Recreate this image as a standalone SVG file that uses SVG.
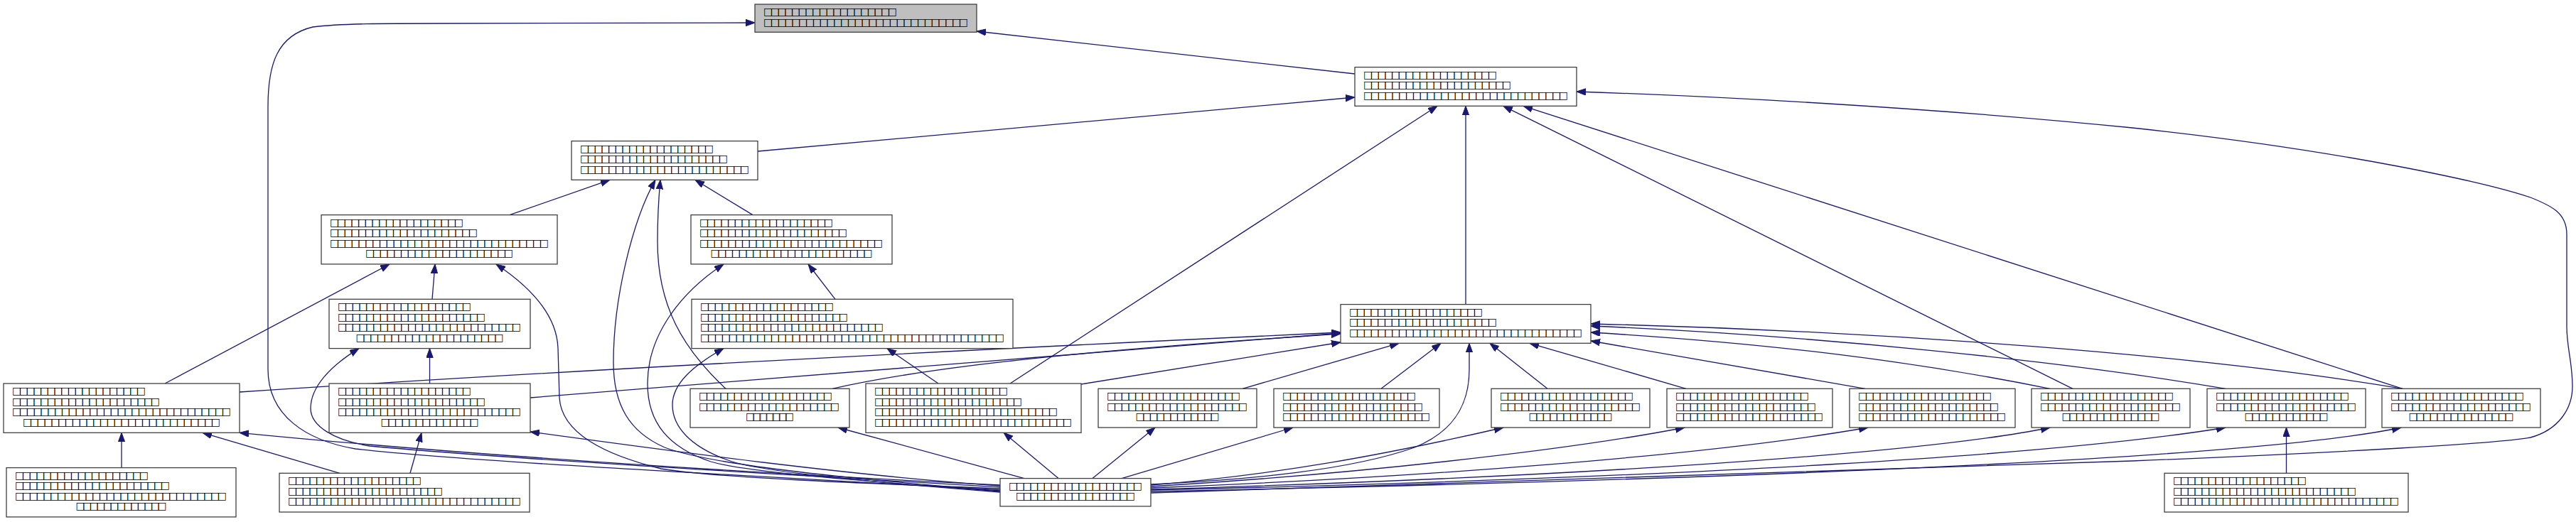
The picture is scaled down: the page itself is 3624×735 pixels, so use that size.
<svg xmlns="http://www.w3.org/2000/svg" width="3624" height="735" viewBox="0 0 3624 735">
<style>
.n rect{fill:#fff;stroke:#404040;stroke-width:1.3}
#nA rect{fill:#bfbfbf}
.n text{font-family:"DejaVu Sans",sans-serif;font-size:14px;fill:#000}
.n text.c{text-anchor:middle}
#edges path{fill:none;stroke:#191970;stroke-width:1.3;marker-end:url(#ah)}
</style>
<defs>
<marker id="ah" markerUnits="userSpaceOnUse" markerWidth="14" markerHeight="10" refX="13" refY="4.7" orient="auto">
<path d="M0,0 L13,4.7 L0,9.4 Z" fill="#191970" stroke="#191970" stroke-width="1"/>
</marker>
</defs>
<rect width="3624" height="735" fill="#fff"/>
<g id="edges">
<path d="M1906,104 L1374,44"/>
<path d="M1407,690 C1100,672 650,650 500,632 C430,620 377,585 377,520 L377,150 C377,90 390,50 440,38 C480,33 540,33 620,33 L1062,32"/>
<path d="M1066,213 L1906,137"/>
<path d="M2062,428.6 L2062,149.3"/>
<path d="M1421,540 L2022,149.3"/>
<path d="M2916,547.3 L2115,149.3"/>
<path d="M3380,547.3 L2143,149.3"/>
<path d="M1619,694 L3000,649 C3300,637 3517,624 3560,616 C3600,605 3619,575 3619,544 C3619,510 3611,490 3611,460 L3611,330 C3611,300 3590,290 3560,278 C3500,258 3300,212 3000,180 C2700,150 2400,135 2218,129"/>
<path d="M717,302.6 L858,253.3"/>
<path d="M1059,302.6 L978,253.3"/>
<path d="M1021,547.3 C960,490 925,430 925,340 C925,300 927,275 929,253.3"/>
<path d="M1407,691 C1200,675 1000,655 935,630 C885,608 863,570 863,510 C863,420 890,310 922,253.3"/>
<path d="M232,540 L548,372"/>
<path d="M608,421.3 L612,372"/>
<path d="M1407,688 C1200,680 1000,672 930,660 C850,640 790,610 787,560 L785,490 C783,440 740,400 698,372"/>
<path d="M1175,421.3 L1137,372"/>
<path d="M1407,692 C1200,676 1050,665 1000,650 C940,630 911,595 911,540 C911,470 960,410 1018,372"/>
<path d="M604.5,540 L604.5,490.6"/>
<path d="M1407,686 C1100,668 700,645 520,628 C470,620 437,600 437,575 C437,545 465,515 505,490.6"/>
<path d="M1407,693 C1200,677 1070,663 1030,650 C970,630 946,600 946,570 C946,540 975,515 1018,490.6"/>
<path d="M1320,540 L1248,490.6"/>
<path d="M337,552 C700,528 1200,500 1886,468"/>
<path d="M746,560 C1000,538 1400,505 1886,469"/>
<path d="M1171,547.3 C1300,518 1500,495 1886,470"/>
<path d="M1521,541 L1886,482"/>
<path d="M1748,547.3 L1968,483.3"/>
<path d="M1943,547.3 L2027,483.3"/>
<path d="M1619,682 C1760,675 1900,662 1990,630 C2045,608 2067,570 2067,520 L2067,483.3"/>
<path d="M2177,547.3 L2096,483.3"/>
<path d="M2372,547.3 L2152,483.3"/>
<path d="M2624,547.3 L2238,480"/>
<path d="M2884,547.3 C2700,510 2500,484 2238,468"/>
<path d="M3131,547.3 C2900,508 2550,472 2238,459"/>
<path d="M3380,547.3 C3100,500 2650,466 2238,456"/>
<path d="M1407,683 C1100,668 700,645 337,609.3"/>
<path d="M1407,684 C1200,670 950,636 746,608"/>
<path d="M1441,673.6 L1179,602"/>
<path d="M1489,673.6 L1412,609.3"/>
<path d="M1537,673.6 L1625,602"/>
<path d="M1578,673.6 L1819,602"/>
<path d="M1619,683 C1800,668 1950,640 2115,602"/>
<path d="M1619,685 C1900,668 2200,635 2370,602"/>
<path d="M1619,687 C2000,672 2400,642 2628,602"/>
<path d="M1619,689 C2200,672 2700,640 2884,602"/>
<path d="M1619,690 C2400,672 2900,640 3131,602"/>
<path d="M1619,692 C2600,672 3200,640 3378,602"/>
<path d="M171,658.6 L171,609.3"/>
<path d="M478,666.3 L285,609.3"/>
<path d="M577,666.3 L593,609.3"/>
<path d="M3216.5,666.3 L3216.5,602"/>
</g>
<g id="nA" class="n"><rect x="1062" y="6" width="312" height="39.3"/>
<text x="1074" y="21" textLength="188" lengthAdjust="spacing">□□□□□□□□□□□□□□□□□□□</text>
<text x="1074" y="35.5" textLength="288" lengthAdjust="spacing">□□□□□□□□□□□□□□□□□□□□□□□□□□□□□</text></g>
<g id="nB" class="n"><rect x="1906" y="94.6" width="312" height="54.7"/>
<text x="1918" y="109.6" textLength="188" lengthAdjust="spacing">□□□□□□□□□□□□□□□□□□□</text>
<text x="1918" y="124.1" textLength="208" lengthAdjust="spacing">□□□□□□□□□□□□□□□□□□□□□</text>
<text x="1918" y="138.6" textLength="288" lengthAdjust="spacing">□□□□□□□□□□□□□□□□□□□□□□□□□□□□□</text></g>
<g id="nC" class="n"><rect x="804" y="198.6" width="262" height="54.7"/>
<text x="816" y="213.6" textLength="188" lengthAdjust="spacing">□□□□□□□□□□□□□□□□□□□</text>
<text x="816" y="228.1" textLength="208" lengthAdjust="spacing">□□□□□□□□□□□□□□□□□□□□□</text>
<text x="816" y="242.6" textLength="238" lengthAdjust="spacing">□□□□□□□□□□□□□□□□□□□□□□□□</text></g>
<g id="nD" class="n"><rect x="452" y="302.6" width="332" height="69.3"/>
<text x="464" y="317.6" textLength="188" lengthAdjust="spacing">□□□□□□□□□□□□□□□□□□□</text>
<text x="464" y="332.1" textLength="208" lengthAdjust="spacing">□□□□□□□□□□□□□□□□□□□□□</text>
<text x="464" y="346.6" textLength="308" lengthAdjust="spacing">□□□□□□□□□□□□□□□□□□□□□□□□□□□□□□□</text>
<text class="c" x="618" y="361.1" textLength="208" lengthAdjust="spacing">□□□□□□□□□□□□□□□□□□□□□</text></g>
<g id="nE" class="n"><rect x="972" y="302.6" width="283" height="69.3"/>
<text x="984" y="317.6" textLength="188" lengthAdjust="spacing">□□□□□□□□□□□□□□□□□□□</text>
<text x="984" y="332.1" textLength="208" lengthAdjust="spacing">□□□□□□□□□□□□□□□□□□□□□</text>
<text x="984" y="346.6" textLength="258" lengthAdjust="spacing">□□□□□□□□□□□□□□□□□□□□□□□□□□</text>
<text class="c" x="1113.5" y="361.1" textLength="228" lengthAdjust="spacing">□□□□□□□□□□□□□□□□□□□□□□□</text></g>
<g id="nF" class="n"><rect x="463" y="421.3" width="283" height="69.3"/>
<text x="475" y="436.3" textLength="188" lengthAdjust="spacing">□□□□□□□□□□□□□□□□□□□</text>
<text x="475" y="450.8" textLength="208" lengthAdjust="spacing">□□□□□□□□□□□□□□□□□□□□□</text>
<text x="475" y="465.3" textLength="258" lengthAdjust="spacing">□□□□□□□□□□□□□□□□□□□□□□□□□□</text>
<text class="c" x="604.5" y="479.8" textLength="208" lengthAdjust="spacing">□□□□□□□□□□□□□□□□□□□□□</text></g>
<g id="nG" class="n"><rect x="973" y="421.3" width="452" height="69.3"/>
<text x="985" y="436.3" textLength="188" lengthAdjust="spacing">□□□□□□□□□□□□□□□□□□□</text>
<text x="985" y="450.8" textLength="208" lengthAdjust="spacing">□□□□□□□□□□□□□□□□□□□□□</text>
<text x="985" y="465.3" textLength="258" lengthAdjust="spacing">□□□□□□□□□□□□□□□□□□□□□□□□□□</text>
<text x="985" y="479.8" textLength="428" lengthAdjust="spacing">□□□□□□□□□□□□□□□□□□□□□□□□□□□□□□□□□□□□□□□□□□□</text></g>
<g id="nH" class="n"><rect x="1886" y="428.6" width="352" height="54.7"/>
<text x="1898" y="443.6" textLength="188" lengthAdjust="spacing">□□□□□□□□□□□□□□□□□□□</text>
<text x="1898" y="458.1" textLength="208" lengthAdjust="spacing">□□□□□□□□□□□□□□□□□□□□□</text>
<text x="1898" y="472.6" textLength="328" lengthAdjust="spacing">□□□□□□□□□□□□□□□□□□□□□□□□□□□□□□□□□</text></g>
<g id="nI" class="n"><rect x="5" y="540" width="332" height="69.3"/>
<text x="17" y="555" textLength="188" lengthAdjust="spacing">□□□□□□□□□□□□□□□□□□□</text>
<text x="17" y="569.5" textLength="208" lengthAdjust="spacing">□□□□□□□□□□□□□□□□□□□□□</text>
<text x="17" y="584" textLength="308" lengthAdjust="spacing">□□□□□□□□□□□□□□□□□□□□□□□□□□□□□□□</text>
<text class="c" x="171" y="598.5" textLength="278" lengthAdjust="spacing">□□□□□□□□□□□□□□□□□□□□□□□□□□□□</text></g>
<g id="nJ" class="n"><rect x="463" y="540" width="283" height="69.3"/>
<text x="475" y="555" textLength="188" lengthAdjust="spacing">□□□□□□□□□□□□□□□□□□□</text>
<text x="475" y="569.5" textLength="208" lengthAdjust="spacing">□□□□□□□□□□□□□□□□□□□□□</text>
<text x="475" y="584" textLength="258" lengthAdjust="spacing">□□□□□□□□□□□□□□□□□□□□□□□□□□</text>
<text class="c" x="604.5" y="598.5" textLength="138" lengthAdjust="spacing">□□□□□□□□□□□□□□</text></g>
<g id="nK" class="n"><rect x="971" y="547.3" width="224" height="54.7"/>
<text x="983" y="562.3" textLength="188" lengthAdjust="spacing">□□□□□□□□□□□□□□□□□□□</text>
<text x="983" y="576.8" textLength="198" lengthAdjust="spacing">□□□□□□□□□□□□□□□□□□□□</text>
<text class="c" x="1083" y="591.3" textLength="68" lengthAdjust="spacing">□□□□□□□</text></g>
<g id="nL" class="n"><rect x="1218" y="540" width="303" height="69.3"/>
<text x="1230" y="555" textLength="188" lengthAdjust="spacing">□□□□□□□□□□□□□□□□□□□</text>
<text x="1230" y="569.5" textLength="208" lengthAdjust="spacing">□□□□□□□□□□□□□□□□□□□□□</text>
<text x="1230" y="584" textLength="258" lengthAdjust="spacing">□□□□□□□□□□□□□□□□□□□□□□□□□□</text>
<text x="1230" y="598.5" textLength="278" lengthAdjust="spacing">□□□□□□□□□□□□□□□□□□□□□□□□□□□□</text></g>
<g id="nM" class="n"><rect x="1545" y="547.3" width="223" height="54.7"/>
<text x="1557" y="562.3" textLength="188" lengthAdjust="spacing">□□□□□□□□□□□□□□□□□□□</text>
<text x="1557" y="576.8" textLength="198" lengthAdjust="spacing">□□□□□□□□□□□□□□□□□□□□</text>
<text class="c" x="1656.5" y="591.3" textLength="118" lengthAdjust="spacing">□□□□□□□□□□□□</text></g>
<g id="nN" class="n"><rect x="1792" y="547.3" width="233" height="54.7"/>
<text x="1804" y="562.3" textLength="188" lengthAdjust="spacing">□□□□□□□□□□□□□□□□□□□</text>
<text x="1804" y="576.8" textLength="198" lengthAdjust="spacing">□□□□□□□□□□□□□□□□□□□□</text>
<text x="1804" y="591.3" textLength="208" lengthAdjust="spacing">□□□□□□□□□□□□□□□□□□□□□</text></g>
<g id="nO" class="n"><rect x="2098" y="547.3" width="223" height="54.7"/>
<text x="2110" y="562.3" textLength="188" lengthAdjust="spacing">□□□□□□□□□□□□□□□□□□□</text>
<text x="2110" y="576.8" textLength="198" lengthAdjust="spacing">□□□□□□□□□□□□□□□□□□□□</text>
<text class="c" x="2209.5" y="591.3" textLength="118" lengthAdjust="spacing">□□□□□□□□□□□□</text></g>
<g id="nP" class="n"><rect x="2345" y="547.3" width="233" height="54.7"/>
<text x="2357" y="562.3" textLength="188" lengthAdjust="spacing">□□□□□□□□□□□□□□□□□□□</text>
<text x="2357" y="576.8" textLength="198" lengthAdjust="spacing">□□□□□□□□□□□□□□□□□□□□</text>
<text x="2357" y="591.3" textLength="208" lengthAdjust="spacing">□□□□□□□□□□□□□□□□□□□□□</text></g>
<g id="nQ" class="n"><rect x="2602" y="547.3" width="233" height="54.7"/>
<text x="2614" y="562.3" textLength="188" lengthAdjust="spacing">□□□□□□□□□□□□□□□□□□□</text>
<text x="2614" y="576.8" textLength="198" lengthAdjust="spacing">□□□□□□□□□□□□□□□□□□□□</text>
<text x="2614" y="591.3" textLength="208" lengthAdjust="spacing">□□□□□□□□□□□□□□□□□□□□□</text></g>
<g id="nR" class="n"><rect x="2858" y="547.3" width="223" height="54.7"/>
<text x="2870" y="562.3" textLength="188" lengthAdjust="spacing">□□□□□□□□□□□□□□□□□□□</text>
<text x="2870" y="576.8" textLength="198" lengthAdjust="spacing">□□□□□□□□□□□□□□□□□□□□</text>
<text class="c" x="2969.5" y="591.3" textLength="138" lengthAdjust="spacing">□□□□□□□□□□□□□□</text></g>
<g id="nS" class="n"><rect x="3105" y="547.3" width="223" height="54.7"/>
<text x="3117" y="562.3" textLength="188" lengthAdjust="spacing">□□□□□□□□□□□□□□□□□□□</text>
<text x="3117" y="576.8" textLength="198" lengthAdjust="spacing">□□□□□□□□□□□□□□□□□□□□</text>
<text class="c" x="3216.5" y="591.3" textLength="118" lengthAdjust="spacing">□□□□□□□□□□□□</text></g>
<g id="nT" class="n"><rect x="3351" y="547.3" width="223" height="54.7"/>
<text x="3363" y="562.3" textLength="188" lengthAdjust="spacing">□□□□□□□□□□□□□□□□□□□</text>
<text x="3363" y="576.8" textLength="198" lengthAdjust="spacing">□□□□□□□□□□□□□□□□□□□□</text>
<text class="c" x="3462.5" y="591.3" textLength="148" lengthAdjust="spacing">□□□□□□□□□□□□□□□</text></g>
<g id="nU" class="n"><rect x="9" y="658.6" width="323" height="69.3"/>
<text x="21" y="673.6" textLength="188" lengthAdjust="spacing">□□□□□□□□□□□□□□□□□□□</text>
<text x="21" y="688.1" textLength="218" lengthAdjust="spacing">□□□□□□□□□□□□□□□□□□□□□□</text>
<text x="21" y="702.6" textLength="298" lengthAdjust="spacing">□□□□□□□□□□□□□□□□□□□□□□□□□□□□□□</text>
<text class="c" x="170.5" y="717.1" textLength="128" lengthAdjust="spacing">□□□□□□□□□□□□□</text></g>
<g id="nV" class="n"><rect x="393" y="666.3" width="352" height="54.7"/>
<text x="405" y="681.3" textLength="188" lengthAdjust="spacing">□□□□□□□□□□□□□□□□□□□</text>
<text x="405" y="695.8" textLength="218" lengthAdjust="spacing">□□□□□□□□□□□□□□□□□□□□□□</text>
<text x="405" y="710.3" textLength="328" lengthAdjust="spacing">□□□□□□□□□□□□□□□□□□□□□□□□□□□□□□□□□</text></g>
<g id="nW" class="n"><rect x="1407" y="673.6" width="212" height="39.3"/>
<text x="1419" y="688.6" textLength="188" lengthAdjust="spacing">□□□□□□□□□□□□□□□□□□□</text>
<text class="c" x="1513" y="703.1" textLength="168" lengthAdjust="spacing">□□□□□□□□□□□□□□□□□</text></g>
<g id="nX" class="n"><rect x="3045" y="666.3" width="343" height="54.7"/>
<text x="3057" y="681.3" textLength="188" lengthAdjust="spacing">□□□□□□□□□□□□□□□□□□□</text>
<text x="3057" y="695.8" textLength="258" lengthAdjust="spacing">□□□□□□□□□□□□□□□□□□□□□□□□□□</text>
<text x="3057" y="710.3" textLength="318" lengthAdjust="spacing">□□□□□□□□□□□□□□□□□□□□□□□□□□□□□□□□</text></g>
</svg>
